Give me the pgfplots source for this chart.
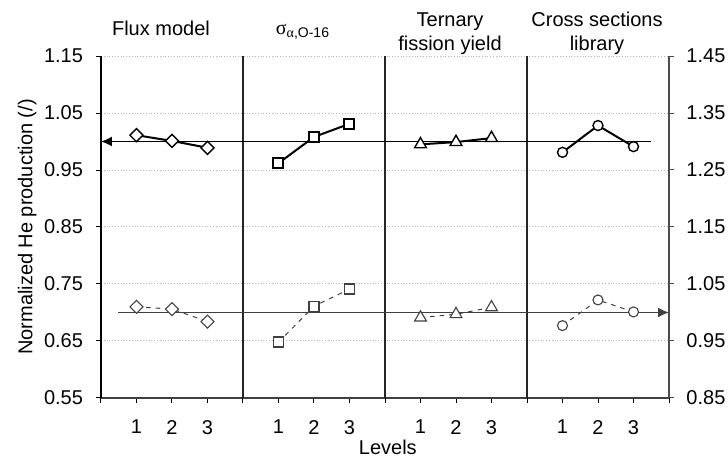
\documentclass[border=0pt]{standalone}
\usepackage{fontspec}
\setmainfont{Liberation Sans}
\newfontfamily\grk{Liberation Serif}
\usepackage{pgfplots}
\pgfplotsset{compat=1.18}
\usetikzlibrary{arrows.meta}

\definecolor{lowgray}{HTML}{404040}
\definecolor{gridgray}{HTML}{B8B8B8}

\tikzset{
  upmark/.style={fill=white, draw=black, solid, line width=0.7pt},
  lowmark/.style={fill=white, draw=lowgray, solid, line width=0.55pt},
}

\pgfplotsset{
  common/.style={
    scale only axis, width=284pt, height=171pt,
    xmin=0, xmax=16,
    clip=false,
    tick align=outside,
    major tick length=2.5pt,
    /pgf/number format/assume math mode=true,
    /pgf/number format/fixed,
    /pgf/number format/fixed zerofill,
    /pgf/number format/precision=2,
  },
  upper/.style={black, line width=1pt},
  lower/.style={lowgray, line width=0.5pt, dash pattern=on 2.3pt off 2.5pt},
}

\begin{document}
\begin{tikzpicture}
% left axis: upper group of curves
\begin{axis}[
  common,
  ymin=0.55, ymax=1.15,
  axis x line*=bottom, axis y line*=left,
  x axis line style={draw=black!75, line width=0.9pt},
  y axis line style={draw=black, line width=0.6pt},
  xtick={0,...,16},
  xticklabels={,1,2,3,,1,2,3,,1,2,3,,1,2,3,},
  extra x ticks={4,8,12},
  extra x tick labels={},
  extra x tick style={grid=major, major grid style={draw=black!85, solid, line width=0.6pt}},
  ytick={0.55,0.65,0.75,0.85,0.95,1.05,1.15},
  ymajorgrids,
  major grid style={draw=gridgray, densely dotted, line width=0.5pt},
  tick style={black, line width=0.5pt},
  xticklabel style={yshift=-5pt},
  yticklabel style={xshift=-3pt},
  ylabel={Normalized He production (/)},
  ylabel style={at={(axis description cs:-0.130,0.5)}, anchor=center, rotate=0},
  xlabel={Levels},
  xlabel style={at={(axis description cs:0.505,-0.143)}, anchor=center},
]
% reference level 1.0 on the left scale
\addplot[black, line width=0.8pt, -{Latex[length=5.5pt,width=5pt]}] coordinates {(15.5,1.0) (0,1.0)};

% Flux model
\addplot[upper, mark=square*, mark size=2.3pt, mark options={upmark, rotate=45}] coordinates {(1,1.011) (2,1.001) (3,0.989)};
% sigma alpha, O-16
\addplot[upper, mark=square*, mark size=2.5pt, mark options={upmark, line width=1pt}] coordinates {(5,0.962) (6,1.008) (7,1.031)};
% Ternary fission yield
\addplot[upper, mark=triangle*, mark size=3.4pt, mark options={upmark}] coordinates {(9,0.995) (10,0.999) (11,1.006)};
% Cross sections library
\addplot[upper, mark=*, mark size=2.5pt, mark options={upmark}] coordinates {(13,0.981) (14,1.028) (15,0.991)};

% group titles
\node[anchor=base] at (axis description cs:0.1056,1.0585) {Flux model};
\node[anchor=base] at (axis description cs:0.3556,1.064) {{\grk σ}\textsubscript{{\grk α},O-16}};
\node[anchor=base] at (axis description cs:0.6144,1.0877) {Ternary};
\node[anchor=base] at (axis description cs:0.6144,1.0175) {fission yield};
\node[anchor=base] at (axis description cs:0.8732,1.0877) {Cross sections};
\node[anchor=base] at (axis description cs:0.8732,1.0175) {library};
\end{axis}

% right axis: lower group of curves
\begin{axis}[
  common,
  ymin=0.85, ymax=1.45,
  axis x line=none, axis y line*=right,
  y axis line style={draw=black!70, line width=0.7pt},
  ytick={0.85,0.95,1.05,1.15,1.25,1.35,1.45},
  tick style={black!70, line width=0.5pt},
  yticklabel style={xshift=2.7pt},
]
% reference level 1.0 on the right scale
\addplot[lowgray, line width=0.8pt, -{Latex[length=5.5pt,width=5pt]}] coordinates {(0.48,1.0) (16,1.0)};

\addplot[lower, mark=square*, mark size=2.3pt, mark options={lowmark, rotate=45}] coordinates {(1,1.010) (2,1.006) (3,0.984)};
\addplot[lower, mark=square*, mark size=2.5pt, mark options={lowmark, line width=0.7pt}] coordinates {(5,0.948) (6,1.011) (7,1.041)};
\addplot[lower, mark=triangle*, mark size=3.4pt, mark options={lowmark}] coordinates {(9,0.991) (10,0.997) (11,1.009)};
\addplot[lower, mark=*, mark size=2.5pt, mark options={lowmark}] coordinates {(13,0.977) (14,1.022) (15,1.001)};
\end{axis}

\pgfresetboundingbox
\path[use as bounding box] (-50.5pt,-30.5pt) rectangle (313.5pt,199pt);
\end{tikzpicture}
\end{document}
